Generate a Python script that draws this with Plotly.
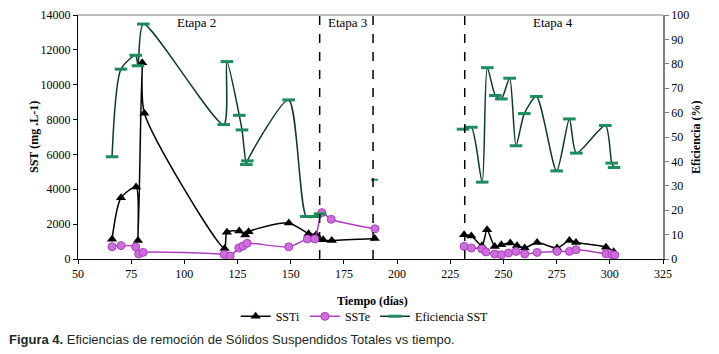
import plotly.graph_objects as go

# ---------------- data ----------------
# SSTi (mg/L) - stage 2/3 and stage 4
ssti_x_a = [66.0, 70.2, 77.3, 78.2, 80.2, 81.2, 118.9, 120.0, 125.8, 128.6, 130.2, 149.1, 158.4, 162.0, 165.2, 169.3, 189.5]
ssti_y_a = [1130, 3513, 4126, 1066, 11267, 8367, 608, 1540, 1600, 1375, 1565, 2070, 1450, 1393, 1100, 1066, 1170]
ssti_x_b = [231.5, 234.9, 239.9, 242.3, 245.9, 249.0, 253.2, 256.4, 260.0, 265.8, 275.2, 281.0, 284.1, 298.2, 301.8]
ssti_y_b = [1393, 1316, 762, 1680, 722, 820, 917, 762, 630, 951, 630, 1066, 951, 680, 420]

# SSTe (mg/L)
sste_x_a = [66.0, 70.2, 77.1, 78.5, 80.6, 118.7, 121.5, 125.6, 127.5, 129.5, 149.1, 157.8, 161.3, 164.6, 169.0, 189.6]
sste_y_a = [700, 770, 690, 290, 380, 260, 170, 630, 740, 900, 700, 1150, 1150, 2660, 2280, 1730]
sste_x_b = [231.5, 234.9, 239.9, 241.8, 245.9, 249.0, 252.4, 255.9, 260.0, 265.8, 275.2, 281.0, 284.1, 298.2, 301.0, 302.3]
sste_y_b = [722, 630, 573, 401, 287, 246, 344, 436, 287, 378, 436, 436, 533, 304, 246, 230]

# Eficiencia SST (%)
ef_x_a = [66.0, 70.2, 77.1, 78.2, 80.7, 118.5, 120.0, 125.8, 127.1, 129.1, 129.6, 149.0, 157.3, 161.5, 163.8]
ef_y_a = [41.9, 77.8, 83.5, 79.2, 96.3, 55.1, 80.9, 58.9, 52.9, 38.7, 40.2, 65.2, 17.4, 17.4, 18.5]
ef_x_lone = [189.4]
ef_y_lone = [32.5]
ef_x_b = [231.0, 234.9, 240.0, 242.4, 246.2, 249.0, 252.9, 255.9, 259.8, 265.5, 275.0, 281.0, 284.3, 297.9, 300.9, 302.0]
ef_y_b = [53.2, 54.0, 31.5, 78.4, 67.0, 65.6, 74.1, 46.4, 59.6, 66.6, 36.1, 57.4, 43.4, 54.7, 39.3, 37.5]

stage_lines = [163.6, 188.7, 231.8]
stage_labels = ["Etapa 2", "Etapa 3", "Etapa 4"]
stage_label_x = [105.9, 176.5, 273.3]

x_ticks = [50, 75, 100, 125, 150, 175, 200, 225, 250, 275, 300, 325]
y_ticks = [0, 2000, 4000, 6000, 8000, 10000, 12000, 14000]
y2_ticks = [0, 10, 20, 30, 40, 50, 60, 70, 80, 90, 100]

# ---------------- styles ----------------
SERIF = "Liberation Serif"
BLACK = "#000000"
PURPLE_LINE = "#b03cc0"
PURPLE_FILL = "#cc6fdc"
GREEN_LINE = "#0c3a2c"
GREEN_MARK = "#1d8c5c"

fig = go.Figure()

def add(x, y, name, color, marker, showlegend, yaxis="y", mode="lines+markers"):
    fig.add_trace(go.Scatter(
        x=x, y=y, name=name, mode=mode, yaxis=yaxis,
        line=dict(color=color, width=1.5, shape="spline", smoothing=0.7),
        marker=marker, showlegend=showlegend, legendgroup=name,
    ))

tri = dict(symbol="triangle-up", size=9, color=BLACK)
circ = dict(symbol="circle", size=8, color=PURPLE_FILL, line=dict(color=PURPLE_LINE, width=1))
dash = dict(symbol="line-ew", size=9, color=GREEN_MARK, line=dict(color=GREEN_MARK, width=3))
dash_small = dict(symbol="line-ew", size=5, color=GREEN_MARK, line=dict(color=GREEN_MARK, width=2))

add(ssti_x_a, ssti_y_a, "SSTi", BLACK, tri, True)
add(ssti_x_b, ssti_y_b, "SSTi", BLACK, tri, False)
add(sste_x_a, sste_y_a, "SSTe", PURPLE_LINE, circ, True)
add(sste_x_b, sste_y_b, "SSTe", PURPLE_LINE, circ, False)
add(ef_x_a, ef_y_a, "Eficiencia SST", GREEN_LINE, dash, True, "y2")
add(ef_x_lone, ef_y_lone, "Eficiencia SST", GREEN_LINE, dash_small, False, "y2", "markers")
add(ef_x_b, ef_y_b, "Eficiencia SST", GREEN_LINE, dash, False, "y2")

for xv in stage_lines:
    fig.add_shape(type="line", xref="x", yref="paper", x0=xv, x1=xv, y0=0, y1=1,
                  line=dict(color=BLACK, width=1.5, dash="dash"))
# top border
fig.add_shape(type="line", xref="paper", yref="paper", x0=0, x1=1, y0=1, y1=1,
              line=dict(color="#7f7f7f", width=1))

for lbl, xv in zip(stage_labels, stage_label_x):
    fig.add_annotation(x=xv, y=0.971, xref="x", yref="paper", yanchor="middle", text=lbl,
                       showarrow=False, font=dict(family=SERIF, size=13, color=BLACK))

fig.add_annotation(x=-0.0906, y=0.5, xref="paper", yref="paper", yanchor="middle",
                   text="<b>SST (mg .L-1)</b>", textangle=-90, showarrow=False,
                   font=dict(family=SERIF, size=12, color=BLACK))
fig.add_annotation(x=1.072, y=0.5, xref="paper", yref="paper", yanchor="middle",
                   text="<b>Eficiencia (%)</b>", textangle=-90, showarrow=False,
                   font=dict(family=SERIF, size=12, color=BLACK))
fig.add_annotation(x=0.503, y=-0.171, xref="paper", yref="paper", yanchor="middle",
                   text="<b>Tiempo (días)</b>", showarrow=False,
                   font=dict(family=SERIF, size=12, color=BLACK))
fig.add_annotation(x=-0.121, y=-0.33, xref="paper", yref="paper", xanchor="left", yanchor="middle",
                   text="<b>Figura 4.</b> Eficiencias de remoción de Sólidos Suspendidos Totales vs tiempo.",
                   showarrow=False,
                   font=dict(family="Liberation Sans", size=13, color="#1a2a22"))

# page body has an 8px margin, so the figure is sized 8px smaller to fit the window
fig.update_layout(
    width=711, height=346,
    margin=dict(l=70, r=56, t=7, b=95, autoexpand=False),
    paper_bgcolor="white", plot_bgcolor="white",
    font=dict(family=SERIF, size=12, color=BLACK),
    xaxis=dict(range=[50, 325], tickvals=x_ticks, showgrid=False, zeroline=False,
               showline=True, linecolor=BLACK, linewidth=1, ticks="outside", ticklen=4,
               tickcolor=BLACK, tickfont=dict(family=SERIF, size=12)),
    yaxis=dict(range=[0, 14000], tickvals=y_ticks, tickformat="d", showgrid=False, zeroline=False,
               showline=True, linecolor=BLACK, linewidth=1, ticks="outside", ticklen=4,
               tickcolor=BLACK, tickfont=dict(family=SERIF, size=12)),
    yaxis2=dict(range=[0, 100], tickvals=y2_ticks, overlaying="y", side="right", showgrid=False,
                zeroline=False, showline=True, linecolor="#7f7f7f", linewidth=1.5,
                ticks="outside", ticklen=4, tickcolor="#7f7f7f",
                tickfont=dict(family=SERIF, size=12)),
    legend=dict(orientation="h", x=0.49, y=-0.235, xanchor="center", yanchor="middle",
                font=dict(family=SERIF, size=12), itemwidth=30, tracegroupgap=0,
                bgcolor="rgba(0,0,0,0)"),
    showlegend=True,
)

fig.write_html("out.html")
